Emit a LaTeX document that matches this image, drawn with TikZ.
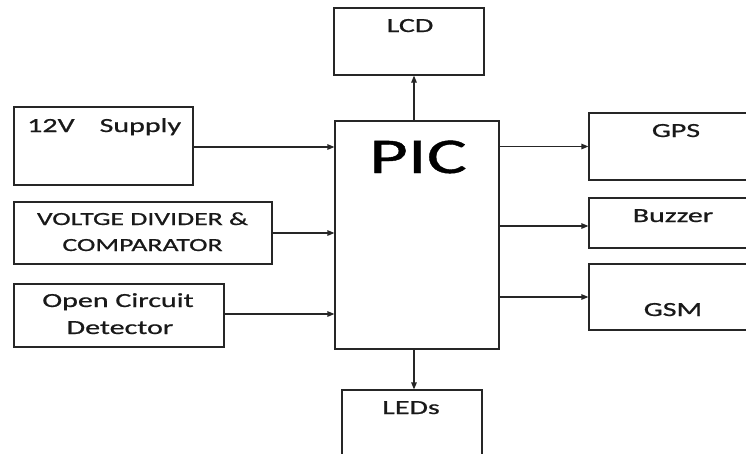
\documentclass[tikz,border=0pt]{standalone}
\usepackage{fontspec}
\newfontfamily\cf[FakeStretch=1.5,FakeBold=0.8]{Carlito}
\usetikzlibrary{arrows.meta,calc}
\begin{document}
\begin{tikzpicture}[x=1pt,y=-1pt,
  blk/.style={draw=black!85, line width=1.2pt, inner sep=0pt, fill=white},
  lbl/.style={font=\cf\fontsize{20}{24}\selectfont, anchor=base, inner sep=0pt, text=black!90},
  sml/.style={font=\cf\fontsize{18.5}{22}\selectfont, anchor=base, inner sep=0pt, text=black!90},
  conn/.style={draw=black!85, line width=1.2pt, -{Triangle[length=7pt,width=5.5pt]}}]
\useasboundingbox (0,0) rectangle (746,453);
\clip (0,0) rectangle (746,453);
\fill[white] (0,0) rectangle (746,453);
% blocks
\node[blk, minimum width=150pt, minimum height=67pt] (lcd) at (409,41.5) {};
\node[blk, minimum width=164pt, minimum height=228pt] (pic) at (417,235) {};
\node[blk, minimum width=179pt, minimum height=78pt] (sup) at (103.5,146) {};
\node[blk, minimum width=258pt, minimum height=62pt] (vd) at (143,233) {};
\node[blk, minimum width=210pt, minimum height=63pt] (oc) at (119,315.5) {};
\node[blk, minimum width=171pt, minimum height=67pt] (gps) at (674.5,146.5) {};
\node[blk, minimum width=171pt, minimum height=50pt] (buz) at (674.5,223) {};
\node[blk, minimum width=171pt, minimum height=66pt] (gsm) at (674.5,297) {};
\node[blk, minimum width=140pt, minimum height=80pt] (led) at (412,430) {};
% labels
\node[lbl, anchor=base west] (tsup) at (27,132) {12V\hspace{25pt}Supply};
\node[lbl] (tlcd) at (410,32) {LCD};
\node[font=\cf\fontsize{50}{56}\selectfont, anchor=base, inner sep=0pt] (tpic) at (418,173) {PIC};
\node[lbl] (tgps) at (676,137) {GPS};
\node[lbl] (tbuz) at (673,222) {Buzzer};
\node[lbl] (tgsm) at (673,316) {GSM};
\node[lbl] (tled) at (411,414) {LEDs};
\node[sml] (tvd1) at (142.5,225) {VOLTGE DIVIDER \&};
\node[sml] (tvd2) at (142.5,251) {COMPARATOR};
\node[lbl] (toc1) at (118,307) {Open Circuit};
\node[lbl] (toc2) at (120,334) {Detector};
% connectors
\draw[conn] ([yshift=-1pt]sup.east) -- ([yshift=-1pt]sup.east -| pic.west);
\draw[conn] (vd.east) -- (vd.east -| pic.west);
\draw[conn] ([yshift=1.5pt]oc.east) -- ([yshift=1.5pt]oc.east -| pic.west);
\draw[conn] (gps.west -| pic.east) -- (gps.west);
\draw[conn] ([yshift=-3pt]buz.west -| pic.east) -- ([yshift=-3pt]buz.west);
\draw[conn] (gsm.west -| pic.east) -- (gsm.west);
\draw[conn] ([xshift=-3pt]pic.north) -- ([xshift=-3pt]pic.north |- lcd.south);
\draw[conn] ([xshift=-3pt]pic.south) -- ([xshift=-3pt]pic.south |- led.north);
\end{tikzpicture}
\end{document}
